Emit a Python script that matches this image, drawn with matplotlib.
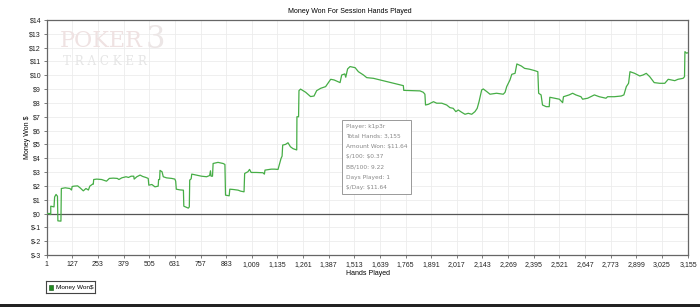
import matplotlib.pyplot as plt
from matplotlib.patches import Rectangle

# данные сессии: номер раздачи и выигрыш в $
hands = [1, 17, 17, 21, 21, 37, 40, 47, 54, 56, 71, 73, 92, 115, 123, 126, 135, 153,
         165, 181, 194, 206, 213, 226, 230, 232, 247, 271, 295, 309, 328, 348, 356,
         370, 391, 403, 416, 429, 431, 444, 460, 473, 488, 500, 503, 518, 533, 549,
         551, 556, 558, 568, 574, 590, 615, 631, 635, 638, 656, 673, 675, 697, 702,
         704, 711, 714, 737, 762, 787, 802, 806, 809, 816, 819, 843, 868, 877, 880,
         898, 901, 917, 942, 954, 971, 974, 990, 998, 1006, 1031, 1064, 1071, 1074,
         1105, 1121, 1138, 1143, 1153, 1158, 1161, 1175, 1187, 1199, 1212, 1223,
         1230, 1231, 1239, 1241, 1249, 1274, 1298, 1315, 1328, 1348, 1372,
         1389, 1397, 1414, 1443, 1451, 1466, 1471, 1480, 1492, 1517, 1533, 1558,
         1574, 1607, 1640, 1672, 1705, 1738, 1754, 1756, 1803, 1836, 1852, 1860,
         1863, 1877, 1902, 1918, 1943, 1967, 1983, 1999, 2012, 2024, 2040, 2057,
         2073, 2090, 2106, 2117, 2126, 2139, 2147, 2164, 2180, 2212, 2245, 2254,
         2262, 2278, 2287, 2303, 2312, 2334, 2350, 2374, 2399, 2415, 2419, 2431,
         2438, 2456, 2471, 2474, 2497, 2521, 2537, 2541, 2569, 2586, 2602, 2627,
         2635, 2660, 2693, 2717, 2750, 2758, 2791, 2825, 2838, 2850, 2861, 2868,
         2891, 2916, 2932, 2948, 2965, 2987, 3014, 3039, 3056, 3088, 3104, 3129,
         3136, 3138, 3146, 3155]
won = [0.0, 0.0, -0.07, -0.07, 0.53, 0.48, 1.2, 1.38, 1.25, -0.53, -0.55, 1.81, 1.86,
       1.81, 1.7, 1.95, 1.98, 2.0, 1.86, 1.64, 1.81, 1.7, 1.98, 2.12, 2.12, 2.46,
       2.49, 2.46, 2.34, 2.54, 2.56, 2.54, 2.46, 2.58, 2.66, 2.61, 2.7, 2.7, 2.49,
       2.66, 2.78, 2.68, 2.61, 2.54, 2.05, 2.1, 1.93, 1.98, 2.46, 2.46, 3.12, 3.02,
       2.66, 2.58, 2.54, 2.49, 2.34, 1.76, 1.71, 1.69, 0.53, 0.39, 0.48, 2.42, 2.51,
       2.85, 2.78, 2.7, 2.66, 2.75, 3.09, 2.7, 2.7, 3.62, 3.7, 3.62, 3.55, 1.33,
       1.28, 1.76, 1.74, 1.69, 1.62, 1.57, 2.9, 3.02, 3.19, 2.97, 2.97, 2.95, 2.85,
       3.14, 3.21, 3.21, 3.19, 3.45, 3.99, 4.15, 4.95, 5.0, 5.12, 4.83, 4.69, 4.64,
       4.6, 7.0, 7.0, 8.89, 9.0, 8.77, 8.46, 8.5, 8.89, 9.06, 9.18, 9.54, 9.71,
       9.66, 9.47, 10.02, 10.1, 9.86, 10.46, 10.63, 10.55, 10.26, 10.02, 9.83, 9.78,
       9.66, 9.54, 9.42, 9.3, 9.25, 8.91, 8.89, 8.87, 8.77, 8.63, 7.85, 7.9, 8.09,
       7.98, 7.98, 7.85, 7.66, 7.61, 7.37, 7.49, 7.33, 7.18, 7.25, 7.18, 7.37, 7.61,
       8.09, 8.94, 9.01, 8.82, 8.63, 8.7, 8.63, 8.77, 9.18, 9.66, 10.07, 10.14,
       10.82, 10.67, 10.5, 10.44, 10.34, 10.26, 8.7, 8.58, 7.85, 7.73, 7.73, 8.41,
       8.34, 8.27, 8.02, 8.45, 8.58, 8.7, 8.58, 8.45, 8.27, 8.34, 8.58, 8.45, 8.34,
       8.45, 8.45, 8.5, 8.58, 9.18, 9.42, 10.26, 10.14, 9.95, 10.02, 10.14, 9.9,
       9.47, 9.42, 9.42, 9.71, 9.61, 9.71, 9.78, 9.9, 11.71, 11.6, 11.64]

x_ticks = [1, 127, 253, 379, 505, 631, 757, 883, 1009, 1135, 1261, 1387, 1513, 1639,
           1765, 1891, 2017, 2143, 2269, 2395, 2521, 2647, 2773, 2899, 3025, 3155]
y_ticks = list(range(-3, 15))

info = ['Player: k1p3r', 'Total Hands: 3,155', r'Amount Won: \$11.64',
        r'\$/100: \$0.37', 'BB/100: 9.22', 'Days Played: 1', r'\$/Day: \$11.64']

plt.rcParams['font.family'] = ['Liberation Sans', 'DejaVu Sans']

fig = plt.figure(figsize=(7, 3.07), dpi=100)
ax = fig.add_axes([0.0667, 0.1694, 0.9167, 0.7655])

# водяной знак
fig.text(0.086, 0.866, 'POKER', fontsize=16, family='DejaVu Serif',
         color='#efe2e2', va='center')
fig.text(0.208, 0.872, '3', fontsize=22, family='DejaVu Serif',
         color='#ece6e6', va='center')
fig.text(0.09, 0.80, 'T R A C K E R', fontsize=8.6, family='DejaVu Serif',
         color='#e6e6e6', va='center')

ax.plot(hands, won, color='#46ad46', lw=0.9, zorder=3)
ax.axhline(0, color='#555555', lw=0.9, zorder=2)

ax.set_xlim(1, 3155)
ax.set_ylim(-3, 14)
ax.set_xticks(x_ticks)
ax.set_xticklabels([f'{t:,}' for t in x_ticks])
ax.set_yticks(y_ticks)
ax.set_yticklabels([f'${t}' for t in y_ticks])
ax.grid(True, color='#ececec', lw=0.6)
ax.set_axisbelow(True)
ax.patch.set_alpha(0)
for s in ax.spines.values():
    s.set_color('#666666')
    s.set_linewidth(0.9)
ax.tick_params(labelsize=5, colors='#222222', length=2.5, width=0.6, pad=1.5)
ax.tick_params(color='#666666')

ax.set_xlabel('Hands Played', fontsize=5, labelpad=2)
ax.set_ylabel('Money Won $', fontsize=5)
ax.yaxis.set_label_coords(-0.025, 0.5)
fig.text(0.5, 0.962, 'Money Won For Session Hands Played', fontsize=5,
         ha='center', va='center')

# инфо-блок
ax.text(0.466, 0.558, '\n'.join(info), transform=ax.transAxes, fontsize=4.2,
        color='#888888', va='top', ha='left', linespacing=2.3, family='DejaVu Sans',
        bbox=dict(boxstyle='square,pad=0.6', fc='white', ec='#999999', lw=0.7))

# легенда
leg_ax = fig.add_axes([0.0657, 0.044, 0.07, 0.04])
leg_ax.set_xticks([])
leg_ax.set_yticks([])
for s in leg_ax.spines.values():
    s.set_color('#444444')
    s.set_linewidth(0.8)
leg_ax.add_patch(Rectangle((0.07, 0.3), 0.08, 0.4, fc='#1f8a1f', ec='#0f4f0f', lw=0.4))
leg_ax.text(0.2, 0.5, 'Money Won$', fontsize=4.6, va='center')

fig.add_artist(Rectangle((0, 0), 1, 0.011, transform=fig.transFigure,
                         fc='#222222', ec='none'))

fig.savefig('out.png', dpi=100)
